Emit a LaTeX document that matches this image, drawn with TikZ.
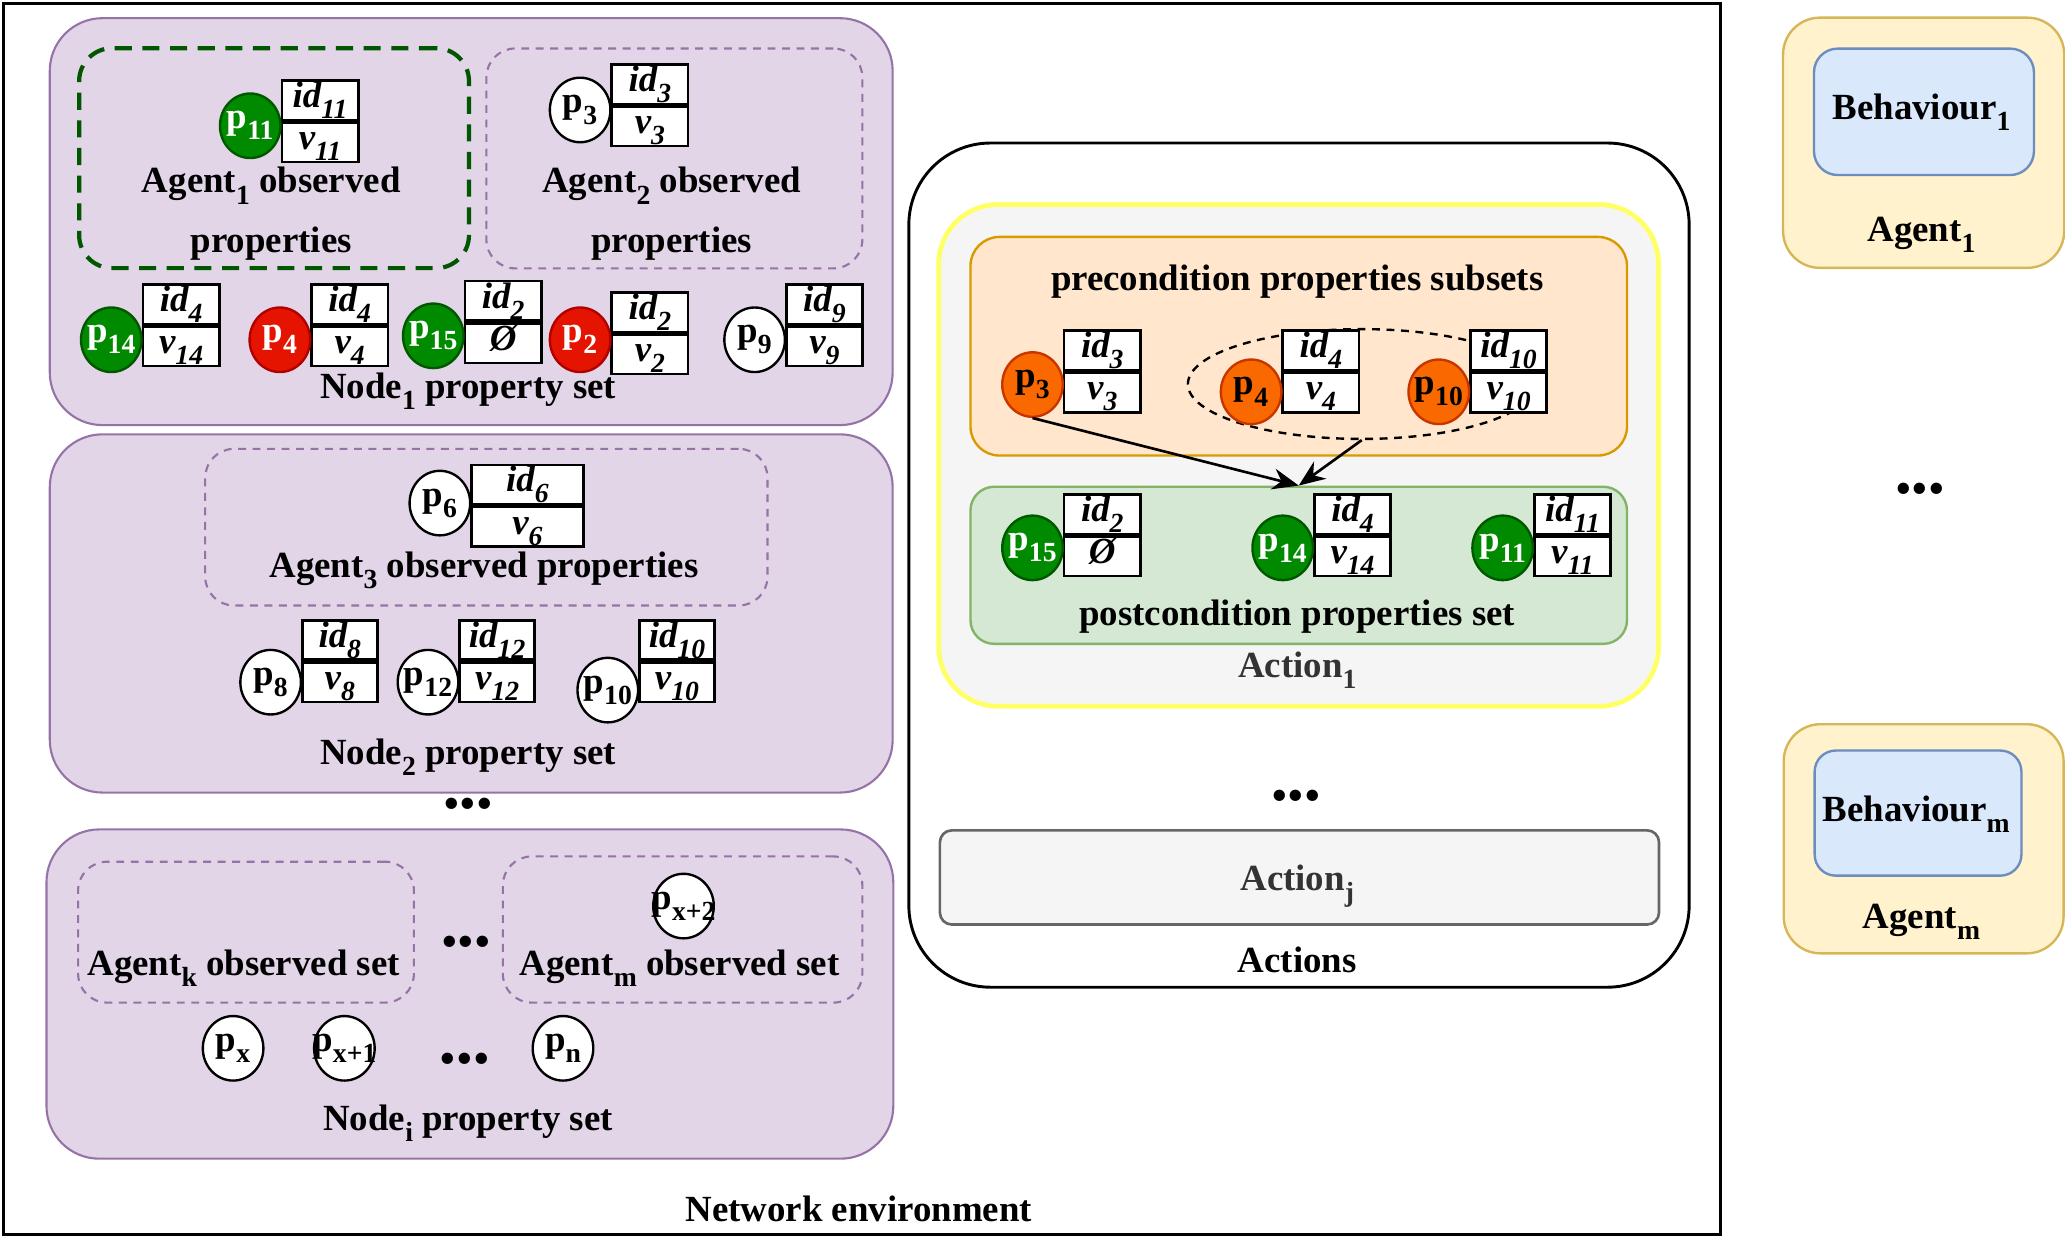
\documentclass[tikz,border=0pt]{standalone}
\usepackage{fontspec}
\setmainfont{Liberation Serif}
\usetikzlibrary{arrows.meta,shapes.geometric}
\definecolor{purfill}{HTML}{E1D5E7}
\definecolor{purline}{HTML}{9673A6}
\definecolor{dgreen}{HTML}{005700}
\definecolor{gfill}{HTML}{008A00}
\definecolor{rfill}{HTML}{E51400}
\definecolor{rline}{HTML}{B20000}
\definecolor{ofill}{HTML}{FA6800}
\definecolor{oline}{HTML}{C73500}
\definecolor{prefill}{HTML}{FFE6CC}
\definecolor{preline}{HTML}{D79B00}
\definecolor{postfill}{HTML}{D5E8D4}
\definecolor{postline}{HTML}{82B366}
\definecolor{actfill}{HTML}{F5F5F5}
\definecolor{actyellow}{HTML}{FFFF66}
\definecolor{actgrey}{HTML}{666666}
\definecolor{txtgrey}{HTML}{333333}
\definecolor{agfill}{HTML}{FFF2CC}
\definecolor{agline}{HTML}{D6B656}
\definecolor{bhfill}{HTML}{DAE8FC}
\definecolor{bhline}{HTML}{6C8EBF}
\newcommand{\sbs}[1]{\raisebox{-0.3em}{\fontsize{21}{21}\selectfont #1}}
\newcommand{\pl}[1]{\makebox[0pt]{p\sbs{#1}}}
\newcommand{\ptab}[6]{%
  \node[cell, minimum width=#4pt, anchor=north west] (#1i) at (#2,#3) {#5};
  \node[cell, minimum width=#4pt, anchor=north] (#1v) at (#1i.south) {#6};}
\tikzset{
  every node/.style={font=\fontsize{28}{34}\selectfont\bfseries, inner sep=0pt},
  cell/.style={rectangle, draw=black, fill=white, line width=2pt, minimum height=30pt,
    text height=15pt, text depth=4pt, font=\fontsize{28}{34}\selectfont\bfseries\itshape},
  pc/.style={ellipse, draw=black, fill=white, line width=1.8pt, minimum width=46pt, minimum height=49pt},
  pgreen/.style={pc, fill=gfill, draw=dgreen, text=white},
  pred/.style={pc, fill=rfill, draw=rline, text=white},
  porange/.style={pc, fill=ofill, draw=oline},
  nodebox/.style={rectangle, rounded corners=40pt, draw=purline, fill=purfill, line width=1.6pt, anchor=north west},
  agbox/.style={rectangle, rounded corners=22pt, draw=purline, line width=1.6pt, dash pattern=on 6pt off 5pt, anchor=north west},
  ag1box/.style={rectangle, rounded corners=25pt, draw=dgreen, line width=3.2pt, dash pattern=on 13pt off 8pt, anchor=north west},
  box/.style={rectangle, anchor=north west},
  dots/.style={font=\fontsize{36}{36}\selectfont},
  arr/.style={line width=2pt, -{Stealth[length=20pt, width=16pt]}},
}
\begin{document}
\begin{tikzpicture}[x=1pt, y=-1pt]
\useasboundingbox (0,0) rectangle (1568,939);
% network environment
\node[box, draw=black, line width=2.3pt, minimum width=1304pt, minimum height=935pt] (net) at (1.2,1.2) {};
\node (netlbl) at (652,918) {Network environment};

% ---------- Node 1 ----------
\node[nodebox, minimum width=640pt, minimum height=309pt] (node1) at (37,13) {};
\node[ag1box, minimum width=296pt, minimum height=167pt] (ag1) at (58.5,35) {};
\node[agbox, minimum width=285.5pt, minimum height=167pt] (ag2) at (368.5,36) {};
\ptab{ta}{213}{60}{58}{id\sbs{11}}{v\sbs{11}}
\node[pgreen] (c11a) at (190,95.5) {\pl{11}};
\ptab{tb}{463.5}{48}{58}{id\sbs{3}}{v\sbs{3}}
\node[pc] (c3a) at (440.5,83.5) {\pl{3}};
\node (ag1l1) at (206,141) {Agent\sbs{1} observed};
\node (ag1l2) at (206,185) {properties};
\node (ag2l1) at (510,141) {Agent\sbs{2} observed};
\node (ag2l2) at (510,185) {properties};
\ptab{tc}{107.5}{215}{58}{id\sbs{4}}{v\sbs{14}}
\node[pgreen] (c14a) at (84.5,258) {\pl{14}};
\ptab{td}{235.5}{215}{58}{id\sbs{4}}{v\sbs{4}}
\node[pred] (c4a) at (212.5,258) {\pl{4}};
\ptab{te}{352}{212.5}{58}{id\sbs{2}}{Ø}
\node[pgreen] (c15a) at (329,255) {\pl{15}};
\ptab{tf}{463.5}{221}{58}{id\sbs{2}}{v\sbs{2}}
\node[pred] (c2a) at (440.5,258) {\pl{2}};
\ptab{tg}{596}{215}{58}{id\sbs{9}}{v\sbs{9}}
\node[pc] (c9a) at (573,258) {\pl{9}};
\node (n1lbl) at (355.5,297) {Node\sbs{1} property set};

% ---------- Node 2 ----------
\node[nodebox, minimum width=640pt, minimum height=272pt] (node2) at (37,329) {};
\node[agbox, minimum width=427pt, minimum height=119pt] (ag3) at (155,340) {};
\ptab{th}{357}{352}{85}{id\sbs{6}}{v\sbs{6}}
\node[pc] (c6a) at (334,382) {\pl{6}};
\node (ag3l) at (367.5,433) {Agent\sbs{3} observed properties};
\ptab{ti}{228.5}{470}{57}{id\sbs{8}}{v\sbs{8}}
\node[pc] (c8a) at (205.5,518) {\pl{8}};
\ptab{tj}{348}{470}{57}{id\sbs{12}}{v\sbs{12}}
\node[pc] (c12a) at (325,518) {\pl{12}};
\ptab{tk}{484.5}{470}{57}{id\sbs{10}}{v\sbs{10}}
\node[pc] (c10a) at (461.5,524) {\pl{10}};
\node (n2lbl) at (355.5,575) {Node\sbs{2} property set};
\node[dots] (dotsn) at (355.5,614) {•••};

% ---------- Node i ----------
\node[nodebox, minimum width=643pt, minimum height=250pt] (nodei) at (34.5,629) {};
\node[agbox, minimum width=255pt, minimum height=107pt] (agk) at (58.5,653.5) {};
\node[agbox, minimum width=273pt, minimum height=111pt] (agm) at (381,649.5) {};
\node (agkl) at (185,735) {Agent\sbs{k} observed set};
\node[dots] (dotsa) at (354,719) {•••};
\node[pc] (cx2) at (519,688) {\pl{x+2}};
\node (agml) at (516,735) {Agent\sbs{m} observed set};
\node[pc] (cx) at (177,796) {\pl{x}};
\node[pc] (cx1) at (261.5,796) {\pl{x+1}};
\node[dots] (dotsp) at (353,808) {•••};
\node[pc] (cn) at (427.5,796) {\pl{n}};
\node (nilbl) at (355.5,853) {Node\sbs{i} property set};

% ---------- Actions ----------
\node[box, draw=black, line width=2.2pt, rounded corners=62pt, minimum width=592.5pt, minimum height=641pt] (actions) at (689,107.5) {};
\node[box, draw=actyellow, fill=actfill, line width=3.6pt, rounded corners=45pt, minimum width=546.5pt, minimum height=381pt] (act1) at (711,153.5) {};
\node[box, draw=preline, fill=prefill, line width=1.8pt, rounded corners=22pt, minimum width=498.5pt, minimum height=166pt] (pre) at (736,179) {};
\node (prelbl) at (985,214) {precondition properties subsets};
\node[ellipse, draw=black, line width=1.8pt, dash pattern=on 6pt off 5pt, minimum width=264pt, minimum height=83.4pt] (ell) at (1034,291.6) {};
\ptab{pa}{807}{250}{58}{id\sbs{3}}{v\sbs{3}}
\node[porange] (c3p) at (784,292) {\pl{3}};
\ptab{pb}{973}{250}{58}{id\sbs{4}}{v\sbs{4}}
\node[porange] (c4p) at (950,297.5) {\pl{4}};
\ptab{pc}{1115.5}{250}{58}{id\sbs{10}}{v\sbs{10}}
\node[porange] (c10p) at (1092.5,297.5) {\pl{10}};
\node[box, draw=postline, fill=postfill, line width=1.8pt, rounded corners=18pt, minimum width=498.5pt, minimum height=119.3pt] (post) at (736,368.7) {};
\ptab{qa}{807}{374.5}{58}{id\sbs{2}}{Ø}
\node[pgreen] (c15p) at (784,416) {\pl{15}};
\ptab{qb}{997}{374.5}{58}{id\sbs{4}}{v\sbs{14}}
\node[pgreen] (c14p) at (974,416) {\pl{14}};
\ptab{qc}{1164}{374.5}{58}{id\sbs{11}}{v\sbs{11}}
\node[pgreen] (c11p) at (1141,416) {\pl{11}};
\node (postlbl) at (985,468) {postcondition properties set};
\node[text=txtgrey] (act1lbl) at (985,509) {Action\sbs{1}};
\draw[arr] (c3p.south) -- (post.north);
\draw[arr] (ell.south) -- (post.north);
\node[dots] (dotsact) at (984,608) {•••};
\node[box, draw=actgrey, fill=actfill, line width=2pt, rounded corners=9pt, minimum width=546pt, minimum height=71.5pt] (actj) at (712.7,629.5) {};
\node[text=txtgrey] (actjlbl) at (985,673) {Action\sbs{j}};
\node (actslbl) at (985,729) {Actions};

% ---------- Agents ----------
\node[box, draw=agline, fill=agfill, line width=1.8pt, rounded corners=28pt, minimum width=213.5pt, minimum height=190pt] (agent1) at (1353,12.5) {};
\node[box, draw=bhline, fill=bhfill, line width=1.8pt, rounded corners=18pt, minimum width=167pt, minimum height=96pt] (beh1) at (1376.5,36) {};
\node (beh1lbl) at (1459,85) {Behaviour\sbs{1}};
\node (agent1lbl) at (1459,178) {Agent\sbs{1}};
\node[dots] (dotsag) at (1458,375) {•••};
\node[box, draw=agline, fill=agfill, line width=1.8pt, rounded corners=28pt, minimum width=212.5pt, minimum height=174pt] (agentm) at (1353.5,549) {};
\node[box, draw=bhline, fill=bhfill, line width=1.8pt, rounded corners=16pt, minimum width=157pt, minimum height=95pt] (behm) at (1377,569) {};
\node (behmlbl) at (1455,618) {Behaviour\sbs{m}};
\node (agentmlbl) at (1459,700) {Agent\sbs{m}};
\end{tikzpicture}
\end{document}
